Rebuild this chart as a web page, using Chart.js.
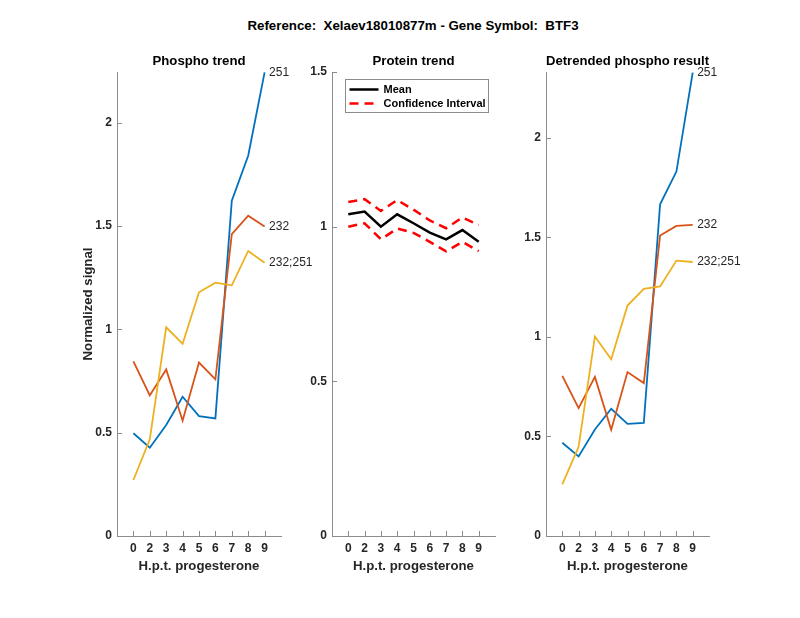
<!DOCTYPE html>
<html>
<head>
<meta charset="utf-8">
<script src="https://cdn.jsdelivr.net/npm/chart.js@4.4.1/dist/chart.umd.min.js"></script>
<style>
  body { margin: 0; background: #fff; }
  #wrap { position: relative; width: 800px; height: 618px; }
  #wrap canvas { position: absolute; left: 0; top: 0; }
  #title { position: absolute; left: 213px; top: 18px; width: 400px; text-align: center;
           font: bold 13.3px/16px "Liberation Sans", Arial, sans-serif; color: #000; white-space: nowrap; }
</style>
</head>
<body>
<div id="wrap">
  <div id="title">Reference:&nbsp; Xelaev18010877m - Gene Symbol:&nbsp; BTF3</div>
  <canvas id="phospho" width="800" height="618"></canvas>
  <canvas id="protein" width="800" height="618"></canvas>
  <canvas id="detrended" width="800" height="618"></canvas>
</div>
<script>
// hours post progesterone
const timepoints = ['0', '2', '3', '4', '5', '6', '7', '8', '9'];

// phospho trend
const phospho251 = [0.497, 0.427, 0.537, 0.674, 0.580, 0.569, 1.622, 1.840, 2.243];
const phospho232 = [0.845, 0.680, 0.806, 0.558, 0.839, 0.758, 1.461, 1.550, 1.497];
const phospho232_251 = [0.271, 0.468, 1.010, 0.930, 1.179, 1.226, 1.213, 1.379, 1.322];

// protein trend
const proteinMean = [1.040, 1.049, 1.000, 1.040, 1.011, 0.981, 0.959, 0.989, 0.951];
const proteinUpper = [1.080, 1.089, 1.051, 1.086, 1.055, 1.020, 0.995, 1.030, 1.005];
const proteinLower = [1.000, 1.011, 0.959, 0.994, 0.980, 0.951, 0.920, 0.951, 0.921];

// detrended phospho result
const detr251 = [0.468, 0.400, 0.535, 0.639, 0.563, 0.568, 1.666, 1.830, 2.327];
const detr232 = [0.804, 0.642, 0.799, 0.533, 0.823, 0.768, 1.509, 1.557, 1.562];
const detr232_251 = [0.259, 0.448, 1.002, 0.888, 1.157, 1.241, 1.253, 1.383, 1.376];

const yTicksPhospho = [0, 0.5, 1, 1.5, 2];
const yTicksProtein = [0, 0.5, 1, 1.5];
const yTicksDetr = [0, 0.5, 1, 1.5, 2];

const FONT = '"Liberation Sans", Arial, sans-serif';
const axisColor = '#8c8c8c';
const textColor = '#262626';
const blue = '#0072BD', orange = '#D95319', yellow = '#EDB120';

// matlab style ticks pointing into the axes
const innerTicks = {
  id: 'innerTicks',
  afterDraw(chart) {
    const { ctx, chartArea: a, scales: { x, y } } = chart;
    ctx.save();
    ctx.strokeStyle = axisColor;
    ctx.lineWidth = 1;
    ctx.beginPath();
    x.ticks.forEach((t, i) => {
      const px = Math.round(x.getPixelForTick(i)) + 0.5;
      ctx.moveTo(px, a.bottom);
      ctx.lineTo(px, a.bottom - 5);
    });
    y.ticks.forEach((t, i) => {
      const py = Math.round(y.getPixelForTick(i)) + 0.5;
      ctx.moveTo(a.left, py);
      ctx.lineTo(a.left + 5, py);
    });
    ctx.stroke();
    ctx.restore();
  }
};

// site names written after the last point of each line
const endLabels = {
  id: 'endLabels',
  afterDatasetsDraw(chart, args, opts) {
    if (!opts.show) return;
    const ctx = chart.ctx;
    ctx.save();
    ctx.font = '12px ' + FONT;
    ctx.fillStyle = textColor;
    ctx.textAlign = 'left';
    ctx.textBaseline = 'middle';
    chart.data.datasets.forEach((ds, i) => {
      const pts = chart.getDatasetMeta(i).data;
      const last = pts[pts.length - 1];
      ctx.fillText(ds.label, last.x + 4.5, last.y);
    });
    ctx.restore();
  }
};

// boxed legend in the upper left of the protein panel
const boxLegend = {
  id: 'boxLegend',
  afterDraw(chart, args, opts) {
    if (!opts.show) return;
    const { ctx, chartArea: a } = chart;
    const left = Math.round(a.left + 13) + 0.5, top = Math.round(a.top + 7) + 0.5;
    ctx.save();
    ctx.fillStyle = '#fff';
    ctx.fillRect(left, top, 143, 33);
    ctx.strokeStyle = axisColor;
    ctx.lineWidth = 1;
    ctx.strokeRect(left, top, 143, 33);
    const items = chart.data.datasets.filter(ds => ds.inLegend !== false);
    ctx.font = 'bold 11px ' + FONT;
    ctx.textBaseline = 'middle';
    items.forEach((ds, i) => {
      const yy = top + 10 + i * 14;
      ctx.strokeStyle = ds.borderColor;
      ctx.lineWidth = ds.borderWidth;
      ctx.setLineDash(ds.borderDash || []);
      ctx.beginPath();
      ctx.moveTo(left + 4, yy);
      ctx.lineTo(left + 33, yy);
      ctx.stroke();
      ctx.setLineDash([]);
      ctx.fillStyle = '#000';
      ctx.fillText(ds.label, left + 38, yy);
    });
    ctx.restore();
  }
};

const asPoints = values => values.map((v, i) => ({ x: i, y: v }));

function makePanel(id, title, datasets, yMax, yTicks, box, extra) {
  return new Chart(document.getElementById(id), {
    type: 'line',
    data: { datasets: datasets },
    plugins: [innerTicks, endLabels, boxLegend],
    options: {
      responsive: false,
      animation: false,
      layout: { padding: { left: box.padL, right: 800 - box.right, top: 53.1, bottom: 82 - 37.9 } },
      elements: { point: { radius: 0 }, line: { tension: 0 } },
      plugins: {
        legend: { display: false },
        tooltip: { enabled: false },
        title: {
          display: true, text: title, fullSize: false, color: '#000',
          font: { family: FONT, size: 13.2, weight: 'bold' },
          padding: { top: 0, bottom: 3.06 }
        },
        endLabels: { show: !!extra.endLabels },
        boxLegend: { show: !!extra.legend }
      },
      scales: {
        x: {
          type: 'linear',
          min: -1, max: timepoints.length,
          grid: { display: false, drawTicks: false },
          border: { display: true, color: axisColor, width: 1 },
          afterBuildTicks: s => { s.ticks = timepoints.map((t, i) => ({ value: i })); },
          ticks: {
            color: textColor, padding: 5.1, autoSkip: false, maxRotation: 0,
            font: { family: FONT, size: 12, weight: 'bold' },
            callback: v => timepoints[v]
          },
          title: {
            display: true, text: 'H.p.t. progesterone', color: textColor,
            font: { family: FONT, size: 13.2, weight: 'bold' }, padding: 0
          },
          afterFit: s => { s.height = 37.9; }
        },
        y: {
          min: 0, max: yMax,
          grid: { display: false, drawTicks: false },
          border: { display: true, color: axisColor, width: 1 },
          afterBuildTicks: s => { s.ticks = yTicks.map(v => ({ value: v })); },
          ticks: {
            color: textColor, padding: 5,
            font: { family: FONT, size: 12, weight: 'bold' },
            callback: v => String(v)
          },
          title: {
            display: !!extra.yTitle, text: extra.yTitle || '', color: textColor,
            font: { family: FONT, size: 13.2, weight: 'bold' }, padding: 0
          },
          afterFit: s => { s.width = box.yW; }
        }
      }
    }
  });
}

function siteLine(label, values, color, order) {
  return { label: label, data: asPoints(values), borderColor: color, borderWidth: 1.8, fill: false, order: order };
}

makePanel('phospho', 'Phospho trend', [
  siteLine('251', phospho251, blue, 3),
  siteLine('232', phospho232, orange, 2),
  siteLine('232;251', phospho232_251, yellow, 1)
], 2.245, yTicksPhospho, { padL: 80.1, yW: 36.9, right: 281 }, { endLabels: true, yTitle: 'Normalized signal' });

makePanel('protein', 'Protein trend', [
  { label: 'Mean', data: asPoints(proteinMean), borderColor: '#000', borderWidth: 2.5, fill: false, order: 1 },
  { label: 'Confidence Interval', data: asPoints(proteinUpper), borderColor: '#ff0000', borderWidth: 2.5,
    borderDash: [9, 6], fill: false, order: 2 },
  { label: 'Confidence Interval', data: asPoints(proteinLower), borderColor: '#ff0000', borderWidth: 2.5,
    borderDash: [9, 6], fill: false, order: 3, inLegend: false }
], 1.5, yTicksProtein, { padL: 292, yW: 40, right: 495 }, { legend: true });

makePanel('detrended', 'Detrended phospho result', [
  siteLine('251', detr251, blue, 3),
  siteLine('232', detr232, orange, 2),
  siteLine('232;251', detr232_251, yellow, 1)
], 2.33, yTicksDetr, { padL: 506, yW: 40, right: 709 }, { endLabels: true });
</script>
</body>
</html>
